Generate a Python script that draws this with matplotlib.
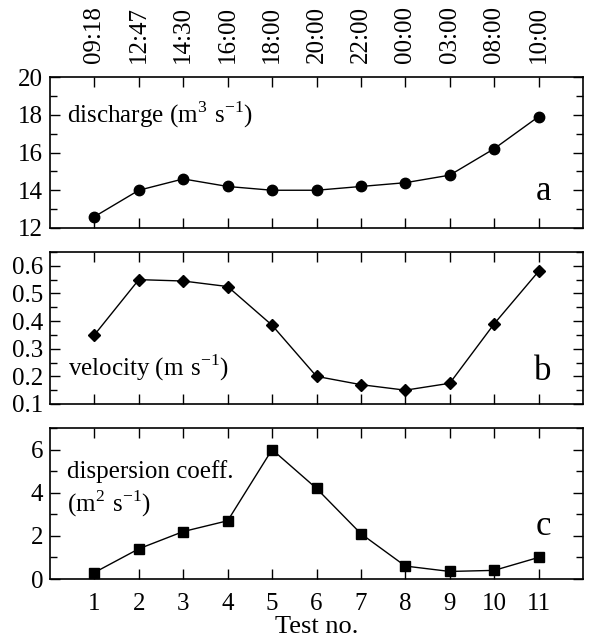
"""Three stacked panels: discharge, velocity and dispersion coefficient per test."""
import numpy as np
import matplotlib
matplotlib.use("Agg")
import matplotlib.pyplot as plt
from matplotlib.ticker import MultipleLocator

plt.rcParams["font.family"] = ["Liberation Serif", "DejaVu Serif"]
plt.rcParams["mathtext.fontset"] = "custom"
plt.rcParams["mathtext.rm"] = "Liberation Serif"

TESTS = list(range(1, 12))
TIMES = ["09:18", "12:47", "14:30", "16:00", "18:00", "20:00",
         "22:00", "00:00", "03:00", "08:00", "10:00"]
DISCHARGE = [12.6, 14.0, 14.6, 14.2, 14.0, 14.0, 14.2, 14.4, 14.8, 16.2, 17.9]
VELOCITY = [0.35, 0.55, 0.545, 0.525, 0.385, 0.20, 0.17, 0.15, 0.175, 0.39, 0.58]
DISPERSION = [0.3, 1.4, 2.2, 2.7, 6.0, 4.2, 2.1, 0.6, 0.35, 0.4, 1.0]

W, H = 593, 642
fig = plt.figure(figsize=(W / 100, H / 100), dpi=100)


def box(l, t, r, b):
    return [l / W, 1 - b / H, (r - l) / W, (b - t) / H]


ax_a = fig.add_axes(box(50, 77, 583, 228))
ax_b = fig.add_axes(box(50, 252, 583, 404))
ax_c = fig.add_axes(box(50, 428, 583, 579))

panels = [
    (ax_a, DISCHARGE, "o", 7.5, (12, 20), 2, 1),
    (ax_b, VELOCITY, "D", 6.5, (0.1, 0.65), 0.1, 0.05),
    (ax_c, DISPERSION, "s", 7, (0, 7), 2, 1),
]
for ax, ys, mk, ms, ylim, maj, mnr in panels:
    ax.plot(TESTS, ys, color="black", lw=1.0, marker=mk, ms=ms)
    ax.set_xlim(0, 12)
    ax.set_ylim(*ylim)
    ax.set_xticks(TESTS)
    ax.yaxis.set_major_locator(MultipleLocator(maj))
    ax.yaxis.set_minor_locator(MultipleLocator(mnr))
    ax.tick_params(which="both", direction="in", top=True, right=True,
                   labelsize=18, width=1.0)
    ax.tick_params(which="major", length=7)
    ax.tick_params(which="minor", length=5)
    ax.tick_params(axis="y", pad=5)
    ax.tick_params(axis="x", pad=10)
    for sp in ax.spines.values():
        sp.set_linewidth(1.2)

ax_b.yaxis.set_major_formatter(plt.FormatStrFormatter("%.1f"))
ax_a.tick_params(labelbottom=False, labeltop=True, axis="x", labelsize=18)
ax_a.set_xticklabels(TIMES, rotation=90)
ax_b.tick_params(labelbottom=False, axis="x")
ax_c.set_xlabel("Test no.", fontsize=19, labelpad=1)

ax_a.text(0.031, 0.70, r"discharge ($\mathrm{m}^{3}\ \mathrm{s}^{-1}$)",
          transform=ax_a.transAxes, fontsize=18, va="baseline")
ax_b.text(0.034, 0.19, r"velocity ($\mathrm{m\ s}^{-1}$)",
          transform=ax_b.transAxes, fontsize=18, va="baseline")
ax_c.text(0.031, 0.669, "dispersion coeff.", transform=ax_c.transAxes,
          fontsize=18, va="baseline")
ax_c.text(0.031, 0.446, r"($\mathrm{m}^{2}\ \mathrm{s}^{-1}$)",
          transform=ax_c.transAxes, fontsize=18, va="baseline")

for ax, lab, yy in [(ax_a, "a", 0.185), (ax_b, "b", 0.158), (ax_c, "c", 0.29)]:
    ax.text(0.941, yy, lab, transform=ax.transAxes, fontsize=25,
            ha="right", va="baseline")

fig.savefig("out.png", dpi=100)
